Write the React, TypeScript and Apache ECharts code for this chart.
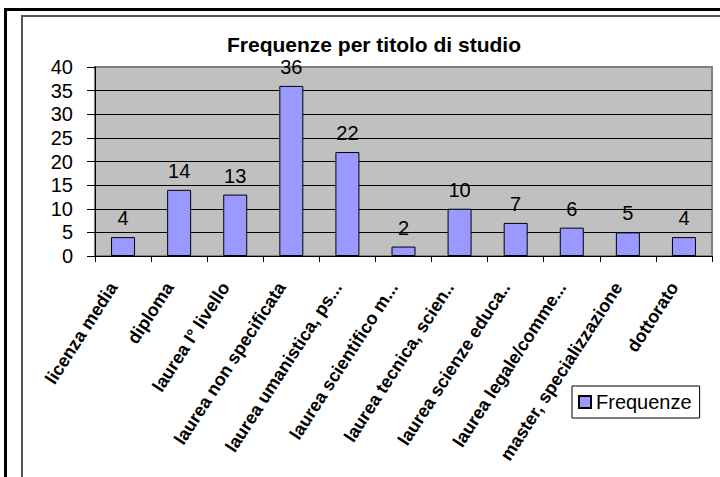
import React, { useEffect, useRef } from "react";
import * as echarts from "echarts";

const categories = [
  "licenza media",
  "diploma",
  "laurea I° livello",
  "laurea non specificata",
  "laurea umanistica, ps...",
  "laurea scientifico m...",
  "laurea tecnica, scien..",
  "laurea scienze educa..",
  "laurea legale/comme...",
  "master, specializzazione",
  "dottorato",
];
const frequenze = [4, 14, 13, 36, 22, 2, 10, 7, 6, 5, 4];
const seriesName = "Frequenze";
const titleText = "Frequenze per titolo di studio";

const FONT = "'Liberation Sans', Arial, sans-serif";

export default function App() {
  const ref = useRef<HTMLDivElement>(null);
  useEffect(() => {
    if (!ref.current) return;
    const chart = echarts.init(ref.current, null, { renderer: "svg" });
    chart.setOption({
      animation: false,
      backgroundColor: "#ffffff",
      textStyle: { fontFamily: FONT },
      title: {
        text: titleText,
        left: 227,
        top: 34,
        padding: 0,
        textStyle: { fontFamily: FONT, fontWeight: "bold", fontSize: 21, color: "#000" },
      },
      graphic: [
        {
          type: "rect",
          shape: { x: 5.5, y: 9.5, width: 800, height: 600 },
          style: { fill: "none", stroke: "#000", lineWidth: 3 },
          silent: true,
        },
        {
          type: "rect",
          shape: { x: 22, y: 16, width: 800, height: 600 },
          style: { fill: "none", stroke: "#555", lineWidth: 2 },
          silent: true,
        },
      ],
      legend: {
        data: [seriesName],
        left: 572,
        top: 386,
        orient: "horizontal",
        icon: "rect",
        itemWidth: 12,
        itemHeight: 12,
        padding: [6, 8, 6, 6],
        backgroundColor: "#fff",
        borderColor: "#000",
        borderWidth: 1,
        borderRadius: 0,
        textStyle: { fontFamily: FONT, fontSize: 20, color: "#000" },
      },
      grid: {
        left: 95,
        right: 8,
        top: 67,
        bottom: 221,
        show: true,
        backgroundColor: "#C0C0C0",
        borderColor: "#808080",
        borderWidth: 2,
      },
      xAxis: {
        type: "category",
        data: categories,
        axisLine: { show: true, lineStyle: { color: "#000", width: 1 } },
        axisTick: { show: true, length: 6, alignWithLabel: false, lineStyle: { color: "#000" } },
        axisLabel: {
          interval: 0,
          rotate: 57,
          margin: 13,
          padding: [0, 18, 0, 0],
          fontFamily: FONT,
          fontWeight: "bold",
          fontSize: 18,
          color: "#000",
        },
        splitLine: { show: false },
      },
      yAxis: {
        type: "value",
        min: 0,
        max: 40,
        interval: 5,
        axisLine: { show: true, lineStyle: { color: "#000", width: 1 } },
        axisTick: { show: true, length: 8, lineStyle: { color: "#000" } },
        axisLabel: { margin: 22, fontFamily: FONT, fontSize: 20, color: "#000" },
        splitLine: {
          show: true,
          lineStyle: {
            color: ["#000", "#000", "#000", "#000", "#000", "#000", "#000", "#000", "#808080"],
            width: 1,
          },
        },
      },
      series: [
        {
          name: seriesName,
          type: "bar",
          data: frequenze,
          barWidth: 24,
          itemStyle: { color: "#9999FF", borderColor: "#000", borderWidth: 1 },
          label: {
            show: true,
            position: "top",
            distance: 9,
            fontFamily: FONT,
            fontSize: 20,
            color: "#000",
          },
        },
      ],
    });
    return () => chart.dispose();
  }, []);
  return (
    <div
      ref={ref}
      style={{ position: "absolute", left: 0, top: 0, width: 720, height: 477 }}
    />
  );
}
